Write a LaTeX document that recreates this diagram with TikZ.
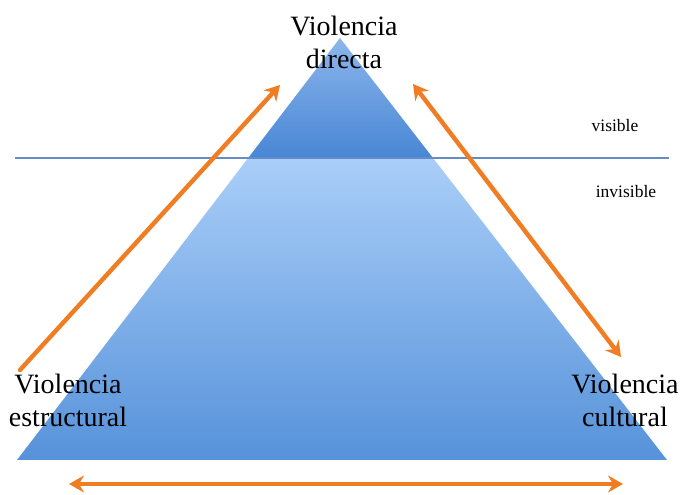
\documentclass[tikz,border=0pt]{standalone}
\usepackage{fontspec}
\setmainfont{Liberation Serif}
\usetikzlibrary{arrows.meta}
\definecolor{arrowor}{RGB}{240,125,35}
\definecolor{lineblue}{RGB}{100,140,200}
\definecolor{topA}{RGB}{140,182,236}
\definecolor{topB}{RGB}{72,134,212}
\definecolor{botA}{RGB}{170,206,248}
\definecolor{botB}{RGB}{86,146,218}
\tikzset{
  orarrow/.style={draw=arrowor, line width=4.4pt, line cap=round},
  bigtip/.tip={Stealth[length=15pt,width=17pt,inset=5pt]},
  biglabel/.style={font=\fontsize{28}{33}\selectfont, align=center, inner sep=0pt},
  smalllabel/.style={font=\fontsize{17.5}{20}\selectfont, inner sep=0pt}
}
\begin{document}
\begin{tikzpicture}[x=1pt,y=1pt]
\useasboundingbox (0,0) rectangle (680,495);
\fill[white] (0,0) rectangle (680,495);
% triangle parts
\coordinate (apex) at (340,457);
\coordinate (bl) at (17,35);
\coordinate (br) at (667,35);
\coordinate (ml) at (248.2,337);
\coordinate (mr) at (433.0,337);
\shade[top color=botA, bottom color=botB] (ml) -- (mr) -- (br) -- (bl) -- cycle;
\shade[top color=topA, bottom color=topB] (apex) -- (mr) -- (ml) -- cycle;
% separator line
\coordinate (lineL) at (15,337);
\coordinate (lineR) at (669,337);
\draw[lineblue, line width=2.8pt] (lineL) -- (lineR);
% arrows
\coordinate (a1s) at (20,125);
\coordinate (a1e) at (280,410);
\coordinate (a2s) at (413,411);
\coordinate (a2e) at (621,138);
\coordinate (a3s) at (69,11);
\coordinate (a3e) at (623,11);
\draw[orarrow, -{bigtip}] (a1s) -- (a1e);
\draw[orarrow, {bigtip}-{bigtip}] (a2s) -- (a2e);
\draw[orarrow, {bigtip}-{bigtip}] (a3s) -- (a3e);
% labels
\node[biglabel] (directa) at (344,453) {Violencia\\directa};
\node[biglabel] (estructural) at (68,95) {Violencia\\estructural};
\node[biglabel] (cultural) at (625,95) {Violencia\\cultural};
\node[smalllabel] (visible) at (615,369) {visible};
\node[smalllabel] (invisible) at (626,303) {invisible};
\end{tikzpicture}
\end{document}
